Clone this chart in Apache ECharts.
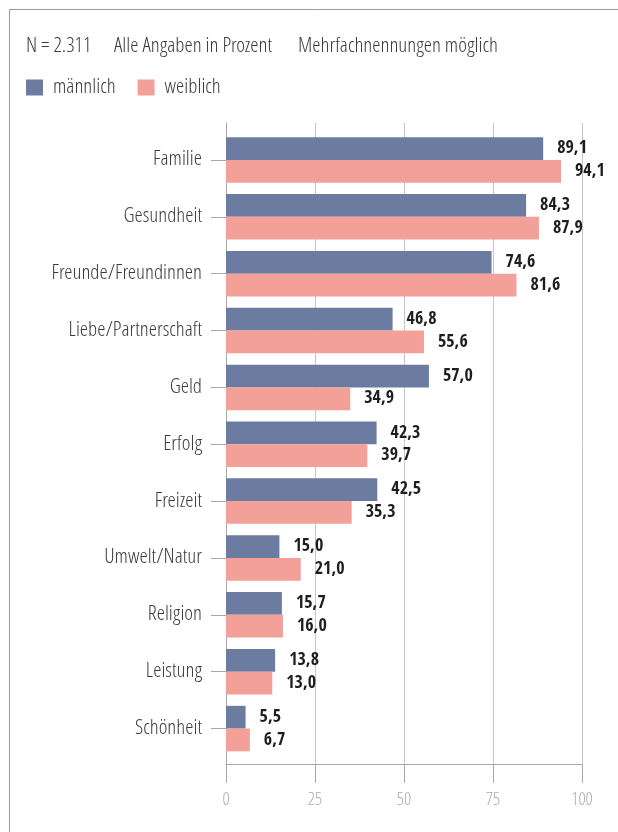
<!DOCTYPE html>
<html>
<head>
<meta charset="utf-8">
<script src="https://cdn.jsdelivr.net/npm/echarts@6/dist/echarts.min.js"></script>
<style>
html, body { margin: 0; padding: 0; background: #fff; }
#chart { width: 618px; height: 832px; }
</style>
</head>
<body>
<div id="chart"></div>
<script>
var categories = ['Familie', 'Gesundheit', 'Freunde/Freundinnen', 'Liebe/Partnerschaft', 'Geld',
    'Erfolg', 'Freizeit', 'Umwelt/Natur', 'Religion', 'Leistung', 'Schönheit'];
var maennlich = [89.1, 84.3, 74.6, 46.8, 57.0, 42.3, 42.5, 15.0, 15.7, 13.8, 5.5];
var weiblich = [94.1, 87.9, 81.6, 55.6, 34.9, 39.7, 35.3, 21.0, 16.0, 13.0, 6.7];
var headerTexts = ['N = 2.311', 'Alle Angaben in Prozent', 'Mehrfachnennungen möglich'];
var xTicks = [0, 25, 50, 75, 100];

var LIGHT = "'Open Sans Condensed Light', 'Open Sans Condensed', sans-serif";
var BOLD = "'Open Sans Condensed', sans-serif";

var chart = echarts.init(document.getElementById('chart'));

// kommaformat fuer die werte
function fmt(p) {
    return p.value.toFixed(1).replace('.', ',');
}

var labelStyle = {
    show: true,
    position: 'right',
    distance: 14,
    fontFamily: BOLD,
    fontWeight: 'bold',
    fontSize: 18,
    color: '#1e1e1e',
    formatter: fmt
};

var option = {
    animation: false,
    title: [
        { text: headerTexts[0], left: 26, top: 36 },
        { text: headerTexts[1], left: 114, top: 36 },
        { text: headerTexts[2], left: 298, top: 36 }
    ].map(function (t) {
        t.padding = 0;
        t.textStyle = { fontFamily: LIGHT, fontSize: 21, fontWeight: 'normal', color: '#3a3a3a' };
        return t;
    }),
    legend: {
        left: 26,
        top: 77,
        padding: 0,
        itemWidth: 17,
        itemHeight: 16,
        itemGap: 22,
        icon: 'rect',
        textStyle: { fontFamily: LIGHT, fontSize: 21, color: '#3a3a3a', padding: [0, 0, 0, 5] },
        data: ['männlich', 'weiblich']
    },
    graphic: [
        { type: 'line', shape: { x1: 9.5, y1: 9.5, x2: 618, y2: 9.5 }, style: { stroke: '#9a9a9a', lineWidth: 1 } },
        { type: 'line', shape: { x1: 9.5, y1: 9.5, x2: 9.5, y2: 832 }, style: { stroke: '#9a9a9a', lineWidth: 1 } }
    ],
    grid: [
        { left: 226, right: 36, top: 123, bottom: 68 },
        { left: 226, right: 36, top: 131.5, height: 625.5 }
    ],
    xAxis: [
        {
            gridIndex: 0, type: 'value', min: xTicks[0], max: xTicks[xTicks.length - 1], interval: 25,
            axisLine: { show: true, lineStyle: { color: '#a8a8a8', width: 1 } },
            axisTick: { show: true, length: 19, lineStyle: { color: '#a8a8a8' } },
            axisLabel: { margin: 27, fontFamily: LIGHT, fontSize: 18, color: '#ababab' },
            splitLine: { show: true, lineStyle: { color: '#c6c6c6', width: 1 } }
        },
        {
            gridIndex: 1, type: 'value', min: 0, max: 100, show: false
        }
    ],
    yAxis: [
        {
            gridIndex: 0, type: 'value', min: 0, max: 1,
            axisLine: { show: true, lineStyle: { color: '#a8a8a8' } },
            axisTick: { show: false }, axisLabel: { show: false }, splitLine: { show: false }
        },
        {
            gridIndex: 1, type: 'category', inverse: true, data: categories,
            axisLine: { show: false },
            axisTick: { show: true, alignWithLabel: true, inside: false, length: 15, lineStyle: { color: '#a8a8a8' } },
            axisLabel: { margin: 24, fontFamily: LIGHT, fontSize: 21, color: '#3a3a3a' }
        }
    ],
    series: [
        {
            name: 'männlich', type: 'bar', xAxisIndex: 1, yAxisIndex: 1,
            data: maennlich, barGap: '0%', barCategoryGap: '20%',
            itemStyle: { color: '#6c7ca1' }, label: labelStyle
        },
        {
            name: 'weiblich', type: 'bar', xAxisIndex: 1, yAxisIndex: 1,
            data: weiblich, barGap: '0%', barCategoryGap: '20%',
            itemStyle: { color: '#f3a099' }, label: labelStyle
        }
    ]
};
chart.setOption(option);
</script>
</body>
</html>
